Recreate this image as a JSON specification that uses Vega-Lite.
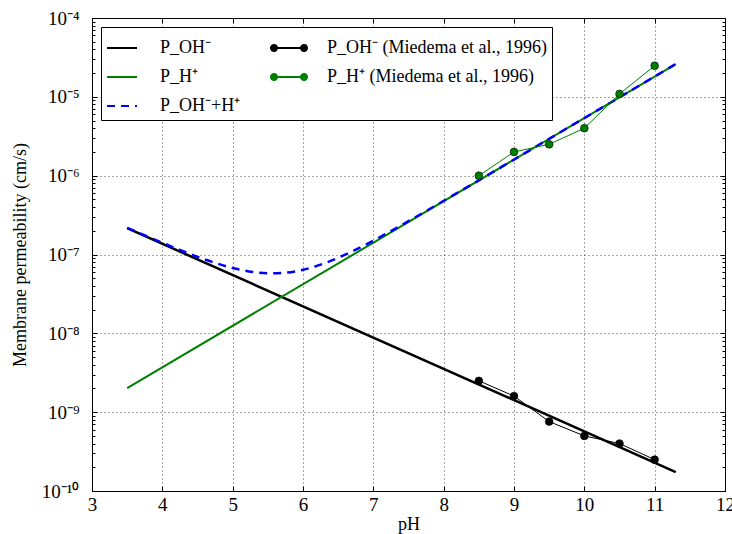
{
  "$schema": "https://vega.github.io/schema/vega-lite/v6.json",
  "width": 633,
  "height": 473,
  "autosize": "none",
  "padding": {"left": 92, "top": 18, "right": 7, "bottom": 43},
  "config": {
    "font": "Liberation Serif",
    "view": {"stroke": "black", "strokeWidth": 1},
    "axis": {
      "labelFont": "Liberation Serif",
      "titleFont": "Liberation Serif",
      "labelFontSize": 19,
      "titleFontSize": 18,
      "titleFontWeight": "normal",
      "labelColor": "black",
      "titleColor": "black",
      "domainColor": "black",
      "tickColor": "black",
      "gridColor": "black",
      "gridDash": [1, 3],
      "gridWidth": 0.7
    },
    "legend": {
      "orient": "top-left",
      "offset": 9,
      "columns": 2,
      "columnPadding": 26,
      "rowPadding": 4,
      "padding": 5,
      "labelFont": "Liberation Serif",
      "labelFontSize": 18,
      "labelColor": "black",
      "labelLimit": 400,
      "labelOffset": 22,
      "symbolSize": 900,
      "symbolStrokeWidth": 2,
      "symbolOpacity": 1,
      "fillColor": "white",
      "strokeColor": "black"
    }
  },
  "data": {
    "values": [
      {"series": "P_OH⁻", "pH": 3.5, "P": 2.16e-7},
      {"series": "P_OH⁻", "pH": 11.3, "P": 1.74e-10},
      {"series": "P_H⁺", "pH": 3.5, "P": 2.02e-9},
      {"series": "P_H⁺", "pH": 11.3, "P": 2.6e-5},
      {"series": "P_OH⁻+H⁺", "pH": 3.5, "P": 2.18e-7},
      {"series": "P_OH⁻+H⁺", "pH": 3.75, "P": 1.75e-7},
      {"series": "P_OH⁻+H⁺", "pH": 4.0, "P": 1.41e-7},
      {"series": "P_OH⁻+H⁺", "pH": 4.25, "P": 1.14e-7},
      {"series": "P_OH⁻+H⁺", "pH": 4.5, "P": 9.35e-8},
      {"series": "P_OH⁻+H⁺", "pH": 4.75, "P": 7.82e-8},
      {"series": "P_OH⁻+H⁺", "pH": 5.0, "P": 6.74e-8},
      {"series": "P_OH⁻+H⁺", "pH": 5.25, "P": 6.06e-8},
      {"series": "P_OH⁻+H⁺", "pH": 5.5, "P": 5.77e-8},
      {"series": "P_OH⁻+H⁺", "pH": 5.75, "P": 5.87e-8},
      {"series": "P_OH⁻+H⁺", "pH": 6.0, "P": 6.39e-8},
      {"series": "P_OH⁻+H⁺", "pH": 6.25, "P": 7.43e-8},
      {"series": "P_OH⁻+H⁺", "pH": 6.5, "P": 9.09e-8},
      {"series": "P_OH⁻+H⁺", "pH": 6.75, "P": 1.153e-7},
      {"series": "P_OH⁻+H⁺", "pH": 7.0, "P": 1.5e-7},
      {"series": "P_OH⁻+H⁺", "pH": 7.25, "P": 1.98e-7},
      {"series": "P_OH⁻+H⁺", "pH": 7.5, "P": 2.65e-7},
      {"series": "P_OH⁻+H⁺", "pH": 8.0, "P": 4.79e-7},
      {"series": "P_OH⁻+H⁺", "pH": 8.5, "P": 8.73e-7},
      {"series": "P_OH⁻+H⁺", "pH": 9.0, "P": 1.6e-6},
      {"series": "P_OH⁻+H⁺", "pH": 10.0, "P": 5.38e-6},
      {"series": "P_OH⁻+H⁺", "pH": 11.0, "P": 1.81e-5},
      {"series": "P_OH⁻+H⁺", "pH": 11.3, "P": 2.61e-5},
      {"series": "P_OH⁻ (Miedema et al., 1996)", "pH": 8.5, "P": 2.5e-9},
      {"series": "P_OH⁻ (Miedema et al., 1996)", "pH": 9.0, "P": 1.6e-9},
      {"series": "P_OH⁻ (Miedema et al., 1996)", "pH": 9.5, "P": 7.6e-10},
      {"series": "P_OH⁻ (Miedema et al., 1996)", "pH": 10.0, "P": 5.0e-10},
      {"series": "P_OH⁻ (Miedema et al., 1996)", "pH": 10.5, "P": 4.0e-10},
      {"series": "P_OH⁻ (Miedema et al., 1996)", "pH": 11.0, "P": 2.5e-10},
      {"series": "P_H⁺ (Miedema et al., 1996)", "pH": 8.5, "P": 1.0e-6},
      {"series": "P_H⁺ (Miedema et al., 1996)", "pH": 9.0, "P": 2.0e-6},
      {"series": "P_H⁺ (Miedema et al., 1996)", "pH": 9.5, "P": 2.5e-6},
      {"series": "P_H⁺ (Miedema et al., 1996)", "pH": 10.0, "P": 4.0e-6},
      {"series": "P_H⁺ (Miedema et al., 1996)", "pH": 10.5, "P": 1.09e-5},
      {"series": "P_H⁺ (Miedema et al., 1996)", "pH": 11.0, "P": 2.48e-5}
    ]
  },
  "resolve": {"axis": {"x": "independent", "y": "independent"}},
  "layer": [
    {
      "mark": {"type": "point", "filled": true, "opacity": 0},
      "encoding": {
        "x": {"field": "pH", "type": "quantitative", "scale": {"domain": [3, 12], "nice": false, "zero": false}, "axis": null},
        "y": {"field": "P", "type": "quantitative", "scale": {"type": "log", "domain": [1e-10, 1e-4], "nice": false}, "axis": null},
        "fill": {
          "field": "series", "type": "nominal",
          "scale": {
            "domain": ["P_OH⁻", "P_H⁺", "P_OH⁻+H⁺", "P_OH⁻ (Miedema et al., 1996)", "P_H⁺ (Miedema et al., 1996)"],
            "range": ["black", "#008000", "blue", "black", "#008000"]
          },
          "legend": {"title": null}
        },
        "stroke": {
          "field": "series", "type": "nominal",
          "scale": {
            "domain": ["P_OH⁻", "P_H⁺", "P_OH⁻+H⁺", "P_OH⁻ (Miedema et al., 1996)", "P_H⁺ (Miedema et al., 1996)"],
            "range": ["black", "#008000", "blue", "black", "#008000"]
          },
          "legend": {"title": null}
        },
        "shape": {
          "field": "series", "type": "nominal",
          "scale": {
            "domain": ["P_OH⁻", "P_H⁺", "P_OH⁻+H⁺", "P_OH⁻ (Miedema et al., 1996)", "P_H⁺ (Miedema et al., 1996)"],
            "range": ["stroke", "stroke", "stroke",
                      "M-1,0L1,0M-0.8,0A0.2,0.2,0,1,1,-1.2,0A0.2,0.2,0,1,1,-0.8,0ZM1.2,0A0.2,0.2,0,1,1,0.8,0A0.2,0.2,0,1,1,1.2,0Z",
                      "M-1,0L1,0M-0.8,0A0.2,0.2,0,1,1,-1.2,0A0.2,0.2,0,1,1,-0.8,0ZM1.2,0A0.2,0.2,0,1,1,0.8,0A0.2,0.2,0,1,1,1.2,0Z"]
          },
          "legend": {"title": null}
        },
        "strokeDash": {
          "field": "series", "type": "nominal",
          "scale": {
            "domain": ["P_OH⁻", "P_H⁺", "P_OH⁻+H⁺", "P_OH⁻ (Miedema et al., 1996)", "P_H⁺ (Miedema et al., 1996)"],
            "range": [[1, 0], [1, 0], [8, 6], [1, 0], [1, 0]]
          },
          "legend": {"title": null}
        }
      }
    },
    {
      "transform": [{"filter": "datum.series == 'P_OH⁻'"}],
      "mark": {"type": "line", "strokeWidth": 2.5, "color": "black"},
      "encoding": {
        "x": {
          "field": "pH", "type": "quantitative",
          "axis": {
            "orient": "bottom",
            "title": "pH", "values": [3, 4, 5, 6, 7, 8, 9, 10, 11, 12],
            "grid": true, "tickSize": -5, "labelPadding": 9, "titlePadding": 1,
            "labelFlush": false
          }
        },
        "y": {
          "field": "P", "type": "quantitative",
          "axis": {
            "orient": "left",
            "title": "Membrane permeability (cm/s)",
            "values": [1e-10, 2e-10, 3e-10, 4e-10, 5e-10, 6e-10, 7e-10, 8e-10, 9e-10,
                       1e-9, 2e-9, 3e-9, 4e-9, 5e-9, 6e-9, 7e-9, 8e-9, 9e-9,
                       1e-8, 2e-8, 3e-8, 4e-8, 5e-8, 6e-8, 7e-8, 8e-8, 9e-8,
                       1e-7, 2e-7, 3e-7, 4e-7, 5e-7, 6e-7, 7e-7, 8e-7, 9e-7,
                       1e-6, 2e-6, 3e-6, 4e-6, 5e-6, 6e-6, 7e-6, 8e-6, 9e-6,
                       1e-5, 2e-5, 3e-5, 4e-5, 5e-5, 6e-5, 7e-5, 8e-5, 9e-5, 1e-4],
            "labelExpr": "abs(log(datum.value)/LN10 - round(log(datum.value)/LN10)) < 0.01 ? '10' + ['⁻¹⁰','⁻⁹','⁻⁸','⁻⁷','⁻⁶','⁻⁵','⁻⁴'][round(log(datum.value)/LN10) + 10] : ''",
            "grid": true,
            "gridOpacity": {"condition": {"test": "abs(log(datum.value)/LN10 - round(log(datum.value)/LN10)) < 0.01", "value": 1}, "value": 0},
            "tickSize": {"condition": {"test": "abs(log(datum.value)/LN10 - round(log(datum.value)/LN10)) < 0.01", "value": -5}, "value": -3},
            "labelPadding": 18,
            "titlePadding": 12,
            "labelFlush": false,
            "labelOverlap": false
          }
        }
      }
    },
    {
      "transform": [{"filter": "datum.series == 'P_H⁺'"}],
      "mark": {"type": "line", "strokeWidth": 2, "color": "#008000"},
      "encoding": {
        "x": {"field": "pH", "type": "quantitative", "axis": null},
        "y": {"field": "P", "type": "quantitative", "axis": null}
      }
    },
    {
      "transform": [{"filter": "datum.series == 'P_OH⁻+H⁺'"}],
      "mark": {"type": "line", "strokeWidth": 2.5, "strokeDash": [8, 6], "interpolate": "monotone", "color": "blue"},
      "encoding": {
        "x": {"field": "pH", "type": "quantitative", "axis": null},
        "y": {"field": "P", "type": "quantitative", "axis": null}
      }
    },
    {
      "transform": [{"filter": "datum.series == 'P_OH⁻ (Miedema et al., 1996)'"}],
      "mark": {"type": "line", "strokeWidth": 1, "color": "black"},
      "encoding": {
        "x": {"field": "pH", "type": "quantitative", "axis": null},
        "y": {"field": "P", "type": "quantitative", "axis": null}
      }
    },
    {
      "transform": [{"filter": "datum.series == 'P_H⁺ (Miedema et al., 1996)'"}],
      "mark": {"type": "line", "strokeWidth": 1, "color": "#008000"},
      "encoding": {
        "x": {"field": "pH", "type": "quantitative", "axis": null},
        "y": {"field": "P", "type": "quantitative", "axis": null}
      }
    },
    {
      "transform": [{"filter": "datum.series == 'P_OH⁻ (Miedema et al., 1996)'"}],
      "mark": {"type": "point", "shape": "circle", "filled": true, "size": 60, "fill": "black", "stroke": "black", "strokeWidth": 0.6, "opacity": 1},
      "encoding": {
        "x": {"field": "pH", "type": "quantitative", "axis": null},
        "y": {"field": "P", "type": "quantitative", "axis": null}
      }
    },
    {
      "transform": [{"filter": "datum.series == 'P_H⁺ (Miedema et al., 1996)'"}],
      "mark": {"type": "point", "shape": "circle", "filled": true, "size": 60, "fill": "#008000", "stroke": "black", "strokeWidth": 0.6, "opacity": 1},
      "encoding": {
        "x": {
          "field": "pH", "type": "quantitative",
          "axis": {"orient": "top", "title": null, "labels": false, "grid": false, "domain": false,
                   "values": [3, 4, 5, 6, 7, 8, 9, 10, 11, 12], "tickSize": -5}
        },
        "y": {
          "field": "P", "type": "quantitative",
          "axis": {
            "orient": "right", "title": null, "labels": false, "grid": false, "domain": false,
            "values": [2e-10, 3e-10, 4e-10, 5e-10, 6e-10, 7e-10, 8e-10, 9e-10,
                       1e-9, 2e-9, 3e-9, 4e-9, 5e-9, 6e-9, 7e-9, 8e-9, 9e-9,
                       1e-8, 2e-8, 3e-8, 4e-8, 5e-8, 6e-8, 7e-8, 8e-8, 9e-8,
                       1e-7, 2e-7, 3e-7, 4e-7, 5e-7, 6e-7, 7e-7, 8e-7, 9e-7,
                       1e-6, 2e-6, 3e-6, 4e-6, 5e-6, 6e-6, 7e-6, 8e-6, 9e-6,
                       1e-5, 2e-5, 3e-5, 4e-5, 5e-5, 6e-5, 7e-5, 8e-5, 9e-5],
            "tickSize": {"condition": {"test": "abs(log(datum.value)/LN10 - round(log(datum.value)/LN10)) < 0.01", "value": -5}, "value": -3}
          }
        }
      }
    }
  ]
}
